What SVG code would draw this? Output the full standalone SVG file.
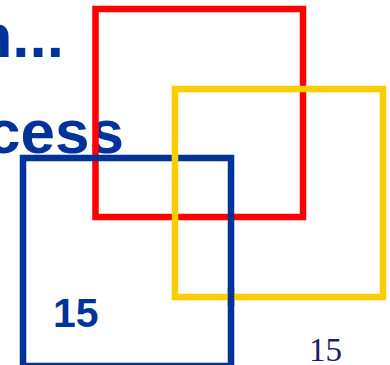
<svg xmlns="http://www.w3.org/2000/svg" width="390" height="365" viewBox="0 0 390 365">
<style>
.t{font-family:"Liberation Sans",Arial,sans-serif;font-weight:bold;fill:#003399}
.sq{fill:none;stroke-width:6.5}
</style>
<rect width="390" height="365" fill="#ffffff"/>
<text class="t" x="64" y="57" font-size="62" text-anchor="end">n...</text>
<text class="t" x="124" y="153" font-size="62" text-anchor="end">cess</text>
<rect class="sq" x="95.5" y="9" width="207.5" height="208" stroke="#ff0000"/>
<rect class="sq" x="23" y="158" width="208" height="208" stroke="#003399"/>
<rect class="sq" x="175" y="89" width="208" height="208" stroke="#ffcc00"/>
<line x1="231" y1="288" x2="231" y2="306" stroke="#003399" stroke-width="6.5"/>
<text class="t" x="53" y="327" font-size="41">15</text>
<text x="309" y="361" font-size="33" font-family="'Liberation Serif','Times New Roman',serif" fill="#1a1a6e">15</text>
</svg>
